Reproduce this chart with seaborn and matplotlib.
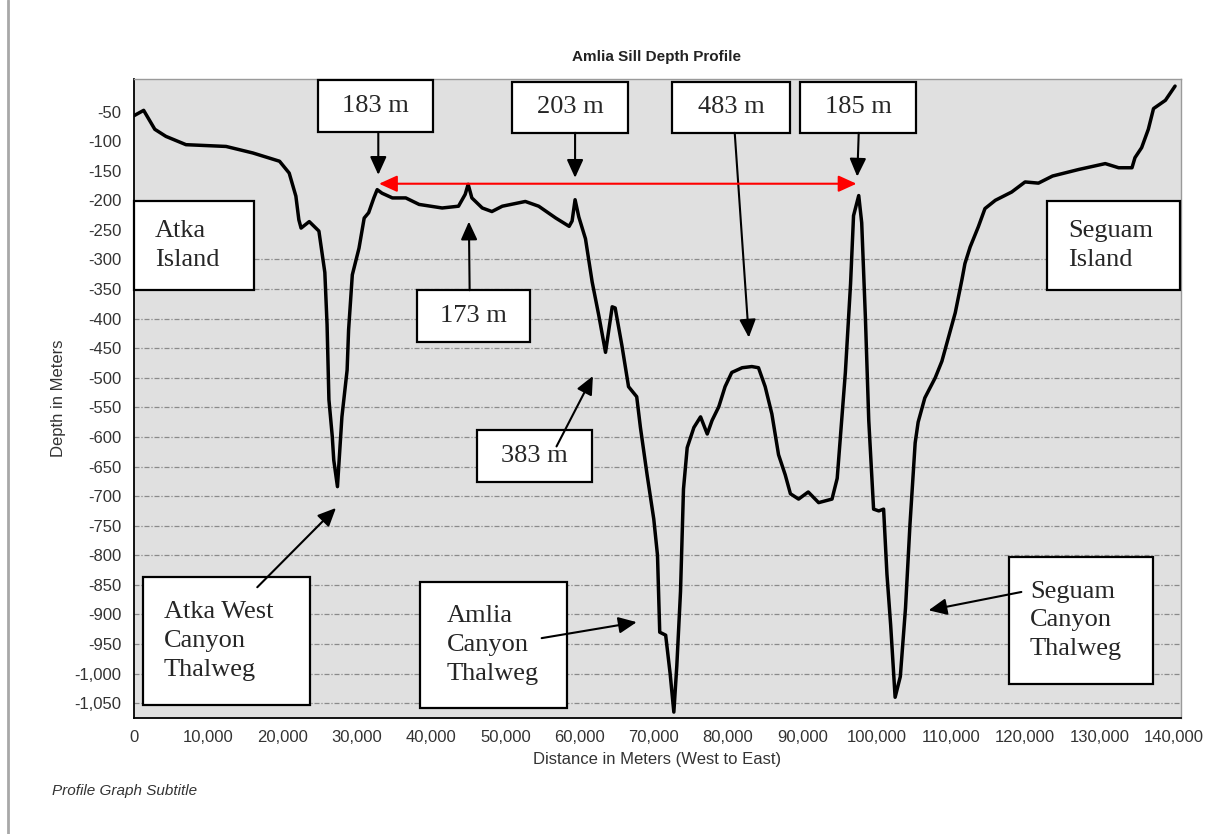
import numpy as np
import pandas as pd
import matplotlib
matplotlib.use("Agg")
import matplotlib.pyplot as plt
from matplotlib.patches import Rectangle
from matplotlib.lines import Line2D
import seaborn as sns

# profile
distance = [0, 1300, 2800, 4300, 7000, 12400, 16000, 19600, 20900, 21800,
            22200, 22500, 23600, 24900, 25700, 26000, 26250, 26700, 26900, 27400,
            27600, 28000, 28700, 28900, 29400, 30300, 31000, 31600, 32300, 32750,
            33400, 34800, 36600, 38400, 41500, 43700, 44600, 45000, 45500, 46900,
            48200, 49600, 52700, 54500, 56800, 58600, 59000, 59400, 59900, 60800,
            61700, 62600, 63500, 64400, 64800, 65700, 66600, 67700, 68200, 69100,
            70000, 70500, 70800, 71600, 72200, 72700, 73100, 73600, 74000, 74500,
            75400, 76300, 77200, 77850, 78750, 79600, 80500, 81900, 83200, 84100,
            85000, 85900, 86800, 87700, 88400, 89500, 90800, 92200, 94000, 94700,
            95300, 95800, 96500, 96900, 97600, 98000, 98500, 98950, 99600, 100300,
            100950, 101400, 101900, 102500, 103200, 103900, 104500, 105200, 105600, 106500,
            107900, 108800, 109700, 110600, 111500, 111900, 112600, 113700, 114600, 116000,
            118200, 120000, 121800, 123700, 127200, 130800, 132600, 134400, 134800, 135700,
            136600, 137300, 138900, 140200]
depth = [-57, -48, -80, -92, -106, -109, -120, -134, -154, -193,
         -233, -247, -236, -252, -322, -410, -537, -599, -639, -684,
         -644, -566, -487, -419, -326, -281, -230, -221, -196, -182,
         -188, -196, -196, -207, -213, -210, -190, -173, -196, -213,
         -219, -210, -202, -210, -230, -244, -235, -199, -228, -265,
         -338, -395, -457, -380, -382, -445, -515, -532, -584, -664,
         -739, -800, -930, -935, -1000, -1065, -987, -861, -688, -618,
         -584, -566, -595, -572, -549, -515, -491, -483, -481, -483,
         -515, -561, -630, -664, -696, -705, -693, -711, -705, -670,
         -572, -491, -341, -226, -192, -238, -399, -572, -722, -725,
         -722, -832, -918, -1040, -1005, -889, -748, -610, -575, -534,
         -500, -472, -431, -390, -334, -307, -279, -245, -214, -200,
         -186, -169, -171, -159, -148, -138, -145, -145, -128, -111,
         -80, -45, -31, -7]

x_ticks = list(range(0, 140001, 10000))
y_ticks = list(range(-50, -1051, -50))

# callout boxes: text, (left, right, bottom, top) in data units, centred or left text
boxes = [
    ("183 m", (24780, 40270, -85, 3), "center"),
    ("203 m", (50900, 66530, -86, 0), "center"),
    ("483 m", (72450, 88340, -86, 0), "center"),
    ("185 m", (89690, 105310, -86, 0), "center"),
    ("173 m", (38110, 53330, -440, -352), "center"),
    ("383 m", (46190, 61680, -676, -588), "center"),
    ("Atka\nIsland", (0, 16160, -352, -201), "left"),
    ("Seguam\nIsland", (122950, 140870, -352, -201), "left"),
    ("Atka West\nCanyon\nThalweg", (1212, 23700, -1053, -837), "left"),
    ("Amlia\nCanyon\nThalweg", (38520, 58310, -1058, -845), "left"),
    ("Seguam\nCanyon\nThalweg", (117840, 137230, -1017, -803), "left"),
]

# arrows: (tail, head)
arrows = [
    ((32900, -85), (32900, -157)),
    ((59400, -86), (59400, -162)),
    ((80900, -86), (82800, -432)),
    ((97600, -86), (97400, -160)),
    ((45200, -352), (45100, -236)),
    ((56900, -616), (61800, -497)),
    ((16600, -854), (27200, -720)),
    ((54900, -940), (67700, -913)),
    ((119500, -862), (107000, -893)),
]
sill_span = ((33000, -172), (97300, -172))

profile = pd.DataFrame({"distance": distance, "depth": depth})

sns.set_style("white")
plt.rcParams["font.family"] = ["Liberation Sans", "DejaVu Sans"]

fig = plt.figure(figsize=(12.13, 8.34), dpi=100)
ax = fig.add_axes([134 / 1213, 1 - 718 / 834, 1047 / 1213, 639 / 834])
ax.set_facecolor("#e0e0e0")

sns.lineplot(data=profile, x="distance", y="depth", sort=False,
             color="black", linewidth=2.5, ax=ax, zorder=3)

ax.set_xlim(0, 141000)
ax.set_ylim(-1075, 5)
ax.set_xticks(x_ticks)
ax.set_xticklabels([f"{v:,}" for v in x_ticks])
ax.set_yticks(y_ticks)
ax.set_yticklabels([f"{v:,}" for v in y_ticks])
ax.tick_params(axis="both", direction="out", length=6, width=1, color="black",
               labelsize=12, labelcolor="#333333", pad=3)

# dashed grid, only drawn below -250 as in the source chart
ax.yaxis.grid(True, color="#8a8a8a", linewidth=0.9, linestyle=(0, (4, 1.5, 1, 1.5)))
for tick, val in zip(ax.yaxis.get_major_ticks(), y_ticks):
    if val > -300:
        tick.gridline.set_visible(False)
ax.xaxis.grid(False)

for side in ["left", "bottom"]:
    ax.spines[side].set_color("black")
    ax.spines[side].set_linewidth(1.3)
for side in ["top", "right"]:
    ax.spines[side].set_color("#9a9a9a")
    ax.spines[side].set_linewidth(1.0)

ax.set_xlabel("Distance in Meters (West to East)", fontsize=12, color="#333333")
ax.set_ylabel("Depth in Meters", fontsize=12, color="#333333")
ax.xaxis.set_label_coords(0.5, -0.053)
ax.yaxis.set_label_coords(-0.065, 0.5)

fig.text(657 / 1213, 1 - 57 / 834, "Amlia Sill Depth Profile", ha="center", va="center",
         fontsize=11, fontweight="bold", color="#222222")
fig.text(52 / 1213, 1 - 791 / 834, "Profile Graph Subtitle", ha="left", va="center",
         fontsize=11, style="italic", color="#333333")
fig.add_artist(Line2D([8 / 1213, 8 / 1213], [0, 1], color="#a8a8a8", linewidth=2))

serif = ["Liberation Serif", "DejaVu Serif"]
for label, (x0, x1, y0, y1), align in boxes:
    ax.add_patch(Rectangle((x0, y0), x1 - x0, y1 - y0, facecolor="white",
                           edgecolor="black", linewidth=1.6, zorder=5, clip_on=False))
    if align == "center":
        tx = (x0 + x1) / 2
    else:
        tx = x0 + (3600 if label.startswith("Amlia") else 2800)
    ax.text(tx, (y0 + y1) / 2, label, ha=align, va="center", fontsize=19,
            family=serif, linespacing=1.4, zorder=6)

for tail, head in arrows:
    ax.annotate("", xy=head, xytext=tail, zorder=7,
                arrowprops=dict(arrowstyle="-|>,head_length=0.55,head_width=0.25",
                                color="black", lw=1.5, mutation_scale=20,
                                shrinkA=0, shrinkB=0))
ax.annotate("", xy=sill_span[1], xytext=sill_span[0], zorder=7,
            arrowprops=dict(arrowstyle="<|-|>,head_length=0.55,head_width=0.25",
                            color="red", lw=1.5, mutation_scale=20,
                            shrinkA=0, shrinkB=0))

fig.savefig("out.png", dpi=100)
